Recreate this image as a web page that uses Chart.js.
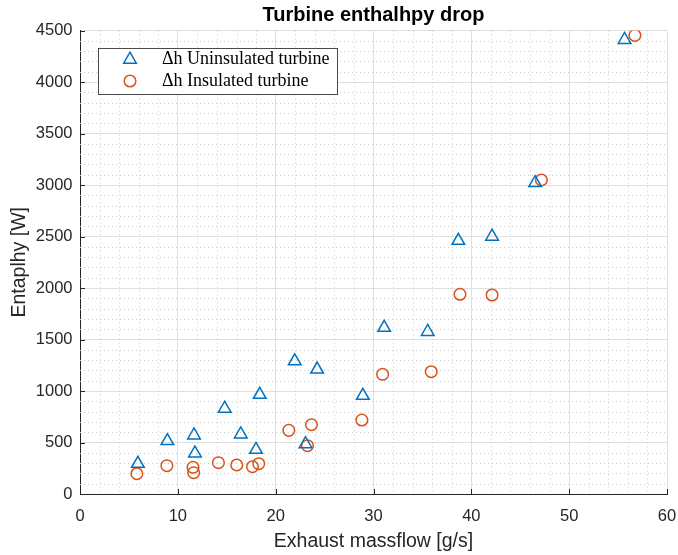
<!DOCTYPE html>
<html>
<head>
<meta charset="utf-8">
<script src="https://cdn.jsdelivr.net/npm/chart.js@4.4.1/dist/chart.umd.min.js"></script>
<style>
html,body{margin:0;padding:0;background:#fff;}
#wrap{width:678px;height:555px;position:relative;}
</style>
</head>
<body>
<div id="wrap"><canvas id="c" width="678" height="555"></canvas></div>
<script>
// ---- data ----
const massflowUninsulated = [5.92, 8.93, 11.65, 11.75, 14.79, 16.43, 17.99, 18.37, 23.05, 28.91, 21.95, 24.24, 31.09, 35.54, 38.67, 42.12, 46.52, 55.66];
const enthalpyUninsulated = [295, 515, 570, 395, 830, 580, 430, 965, 485, 955, 1290, 1210, 1615, 1575, 2460, 2500, 3020, 4410];
const massflowInsulated = [5.81, 8.88, 11.55, 11.62, 14.15, 16.02, 17.63, 18.27, 21.34, 23.66, 23.25, 28.81, 30.93, 35.90, 38.84, 42.12, 47.16, 56.72];
const enthalpyInsulated = [197, 275, 259, 207, 304, 282, 265, 294, 618, 673, 469, 718, 1162, 1187, 1939, 1932, 3049, 4453];
const seriesLabels = ['Δh Uninsulated turbine', 'Δh Insulated turbine'];
const xTickValues = [0, 10, 20, 30, 40, 50, 60];
const yTickValues = [0, 500, 1000, 1500, 2000, 2500, 3000, 3500, 4000, 4500];
const chartTitle = 'Turbine enthalhpy drop';
const xTitle = 'Exhaust massflow [g/s]';
const yTitle = 'Entaplhy [W]';

const BLUE = '#0072BD', ORANGE = '#D95319', AXIS = '#262626';
const SANS = '"Liberation Sans", Arial, Helvetica, sans-serif';
const SERIF = '"Liberation Serif", "Times New Roman", serif';

const toPoints = (xs, ys) => xs.map((x, i) => ({x: x, y: ys[i]}));

const decor = {
  id: 'matlabDecor',
  beforeDatasetsDraw(chart) {
    const {ctx, chartArea: a, scales: {x, y}} = chart;
    ctx.save();
    // minor dotted grid
    ctx.strokeStyle = '#cdcdcd';
    ctx.lineWidth = 1;
    ctx.setLineDash([1, 3]);
    for (let v = x.min; v <= x.max; v += 2) {
      if (v % 10 === 0) continue;
      const px = Math.round(x.getPixelForValue(v)) + 0.5;
      ctx.beginPath(); ctx.moveTo(px, a.top); ctx.lineTo(px, a.bottom); ctx.stroke();
    }
    for (let v = y.min; v <= y.max; v += 100) {
      if (v % 500 === 0) continue;
      const py = Math.round(y.getPixelForValue(v)) + 0.5;
      ctx.beginPath(); ctx.moveTo(a.left, py); ctx.lineTo(a.right, py); ctx.stroke();
    }
    ctx.setLineDash([]);
    // inward tick marks
    ctx.strokeStyle = AXIS;
    ctx.beginPath();
    xTickValues.forEach(v => {
      const px = Math.round(x.getPixelForValue(v)) + 0.5;
      ctx.moveTo(px, a.bottom); ctx.lineTo(px, a.bottom - 5);
    });
    yTickValues.forEach(v => {
      const py = Math.round(y.getPixelForValue(v)) + 0.5;
      ctx.moveTo(a.left, py); ctx.lineTo(a.left + 5, py);
    });
    ctx.stroke();
    ctx.restore();
  },
  afterDraw(chart) {
    const {ctx, chartArea: a} = chart;
    ctx.save();
    const bx = a.left + 18, by = a.top + 17.5, bw = 239, bh = 46;
    ctx.fillStyle = '#fff';
    ctx.fillRect(bx, by, bw, bh);
    ctx.strokeStyle = '#4a4a4a';
    ctx.lineWidth = 1;
    ctx.strokeRect(Math.round(bx) + 0.5, Math.round(by) + 0.5, bw, bh);
    const rows = [by + 11.5, by + 33];
    chart.data.datasets.forEach((ds, i) => {
      const cx = a.left + 50, cy = rows[i];
      ctx.strokeStyle = ds.borderColor;
      ctx.lineWidth = 1.5;
      ctx.beginPath();
      if (ds.pointStyle === 'triangle') {
        const r = ds.pointRadius;
        ctx.moveTo(cx, cy - r);
        ctx.lineTo(cx + r * Math.sqrt(3) / 2, cy + r / 2);
        ctx.lineTo(cx - r * Math.sqrt(3) / 2, cy + r / 2);
        ctx.closePath();
      } else {
        ctx.arc(cx, cy, ds.pointRadius, 0, Math.PI * 2);
      }
      ctx.stroke();
      ctx.fillStyle = '#000';
      ctx.font = '18px ' + SERIF;
      ctx.textBaseline = 'middle';
      ctx.textAlign = 'left';
      ctx.fillText(ds.label, a.left + 82, cy);
    });
    ctx.restore();
  }
};

new Chart(document.getElementById('c'), {
  type: 'scatter',
  data: {
    datasets: [
      {
        label: seriesLabels[0],
        data: toPoints(massflowUninsulated, enthalpyUninsulated),
        pointStyle: 'triangle',
        pointRadius: 7.3,
        pointHoverRadius: 7.3,
        borderColor: BLUE,
        backgroundColor: 'rgba(0,0,0,0)',
        pointBorderWidth: 1.5,
        borderWidth: 1.5
      },
      {
        label: seriesLabels[1],
        data: toPoints(massflowInsulated, enthalpyInsulated),
        pointStyle: 'circle',
        pointRadius: 5.8,
        pointHoverRadius: 5.8,
        borderColor: ORANGE,
        backgroundColor: 'rgba(0,0,0,0)',
        pointBorderWidth: 1.5,
        borderWidth: 1.5
      }
    ]
  },
  options: {
    responsive: false,
    animation: false,
    devicePixelRatio: 1,
    layout: {padding: {left: 0, right: 11, top: 0, bottom: 0}},
    plugins: {
      legend: {display: false},
      tooltip: {enabled: false},
      title: {
        display: true,
        text: chartTitle,
        fullSize: false,
        color: '#000',
        font: {family: SANS, size: 20, weight: 'bold'},
        padding: {top: 3.5, bottom: 3}
      }
    },
    scales: {
      x: {
        type: 'linear',
        min: 0, max: 60,
        afterBuildTicks: s => { s.ticks = xTickValues.map(v => ({value: v})); },
        afterFit: s => { s.height = 61; s.paddingLeft = 0; s.paddingRight = 0; },
        ticks: {color: AXIS, font: {family: SANS, size: 16.5}, padding: 13, maxRotation: 0,
                callback: v => String(v)},
        grid: {color: '#dfdfdf', lineWidth: 1, drawTicks: false},
        border: {display: true, color: AXIS, width: 1},
        title: {display: true, text: xTitle, color: AXIS, font: {family: SANS, size: 19.5}, padding: {top: 0, bottom: 2}}
      },
      y: {
        type: 'linear',
        min: 0, max: 4500,
        afterBuildTicks: s => { s.ticks = yTickValues.map(v => ({value: v})); },
        afterFit: s => { s.width = 80; s.paddingTop = 0; s.paddingBottom = 0; },
        ticks: {color: AXIS, font: {family: SANS, size: 16.5}, padding: 7.5,
                callback: v => String(v)},
        grid: {color: '#dfdfdf', lineWidth: 1, drawTicks: false},
        border: {display: true, color: AXIS, width: 1},
        title: {display: true, text: yTitle, color: AXIS, font: {family: SANS, size: 19.5}, padding: {top: 7.5, bottom: 0}}
      }
    }
  },
  plugins: [decor]
});
</script>
</body>
</html>
